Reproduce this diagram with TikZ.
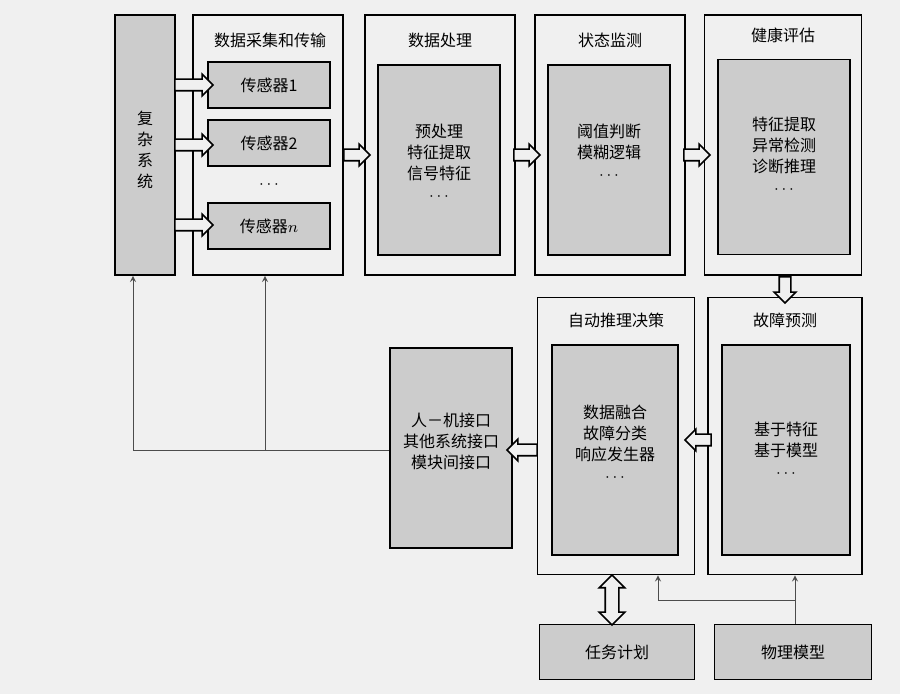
\documentclass[tikz,border=0pt]{standalone}
\usepackage{fontspec}
\setmainfont{Noto Sans CJK SC}
\usetikzlibrary{positioning,shapes.arrows}
\colorlet{paper}{black!6}
\colorlet{boxgray}{black!20}
\tikzset{
  outer/.style={draw, thick, fill=paper, inner sep=0pt},
  inner/.style={draw, thick, fill=boxgray, inner sep=0pt},
  label/.style={align=center, font=\fontsize{8}{10.5}\selectfont},
  hollow/.style={single arrow, draw, fill=paper, thick, inner sep=2.5pt,
    single arrow head extend=2.5pt, minimum height=#1, anchor=center},
  twoway/.style={double arrow, draw, fill=paper, thick, inner sep=3pt,
    double arrow head extend=3pt, minimum height=#1, anchor=center},
  link/.style={draw=black!70, -stealth}
}
\begin{document}
\begin{tikzpicture}[x=0.5pt, y=-0.5pt]
  \useasboundingbox[fill=paper] (0,0) rectangle (900,694);

  % 第一行
  \node[inner, minimum width=30pt, minimum height=130pt] (sys) at (145,145) {};
  \node[label] (systxt) at (145,150) {复\\杂\\系\\统};

  \node[outer, minimum width=75pt, minimum height=130pt] (acq) at (268,145) {};
  \node[label] (acqtxt) at (270,40) {数据采集和传输};
  \node[inner, minimum width=61pt, minimum height=23pt, label] (s1) at (269,85) {传感器1};
  \node[inner, minimum width=61pt, minimum height=23pt, label] (s2) at (269,143) {传感器2};
  \node[label] (sdots) at (269,185) {$\cdots$};
  \node[inner, minimum width=61pt, minimum height=23pt, label] (sn) at (269,226) {传感器$n$};

  \node[outer, minimum width=75pt, minimum height=130pt] (proc) at (440,145) {};
  \node[label] (proctxt) at (440,40) {数据处理};
  \node[inner, minimum width=61pt, minimum height=95pt] (procin) at (439,160) {};
  \node[label] (proclist) at (439,162) {预处理\\特征提取\\信号特征\\$\cdots$};

  \node[outer, minimum width=75pt, minimum height=130pt] (mon) at (610,145) {};
  \node[label] (montxt) at (610,40) {状态监测};
  \node[inner, minimum width=61pt, minimum height=95pt] (monin) at (609,160) {};
  \node[label] (monlist) at (609,152) {阈值判断\\模糊逻辑\\$\cdots$};

  \node[outer, minimum width=78.5pt, minimum height=130pt] (hea) at (783,145) {};
  \node[label] (heatxt) at (783,35) {健康评估};
  \node[inner, minimum width=66pt, minimum height=97.5pt] (heain) at (784,157) {};
  \node[label] (healist) at (784,155) {特征提取\\异常检测\\诊断推理\\$\cdots$};

  % 第二行
  \node[outer, minimum width=77pt, minimum height=138.5pt] (fp) at (785,436) {};
  \node[label] (fptxt) at (785,320) {故障预测};
  \node[inner, minimum width=64pt, minimum height=105pt] (fpin) at (786,450) {};
  \node[label] (fplist) at (786,450) {基于特征\\基于模型\\$\cdots$};

  \node[outer, minimum width=78.5pt, minimum height=138.5pt] (dec) at (616,436) {};
  \node[label] (dectxt) at (616,320) {自动推理决策};
  \node[inner, minimum width=63pt, minimum height=105pt] (decin) at (615,450) {};
  \node[label] (declist) at (615,443) {数据融合\\故障分类\\响应发生器\\$\cdots$};

  \node[inner, minimum width=61pt, minimum height=100pt] (iface) at (451,448) {};
  \node[label] (ifacelist) at (451,441) {人－机接口\\其他系统接口\\模块间接口};

  % 第三行
  \node[inner, minimum width=77.5pt, minimum height=27.5pt, label] (task) at (617,652) {任务计划};
  \node[inner, minimum width=78.5pt, minimum height=27.5pt, label] (phys) at (793,652) {物理模型};

  % 空心箭头
  \foreach \y in {85,145,225}
    \node[hollow=19pt] (in\y) at (191,\y) {};
  \node[hollow=13pt] (a1) at (354,155) {};
  \node[hollow=13pt] (a2) at (524,155) {};
  \node[hollow=13pt] (a3) at (694,155) {};
  \node[hollow=13pt, rotate=-90] (a4) at (785,287) {};
  \node[hollow=13pt, rotate=180] (a5) at (701,440) {};
  \node[hollow=15pt, rotate=180] (a6) at (525,450) {};
  \node[twoway=25pt, rotate=90] (a7) at (612,600) {};

  % 反馈连线
  \coordinate (fbl) at (133,450);
  \coordinate (fbm) at (265,450);
  \draw[draw=black!70] (iface.west |- fbl) -- (fbl);
  \draw[link] (fbl) -- (sys.south -| fbl);
  \draw[link] (fbm) -- (acq.south -| fbm);
  \coordinate (pm) at (795,600);
  \coordinate (pd) at (658,600);
  \draw[link] (phys.north -| pm) -- (fp.south -| pm);
  \draw[link] (pm) -- (pd) -- (dec.south -| pd);
\end{tikzpicture}
\end{document}
